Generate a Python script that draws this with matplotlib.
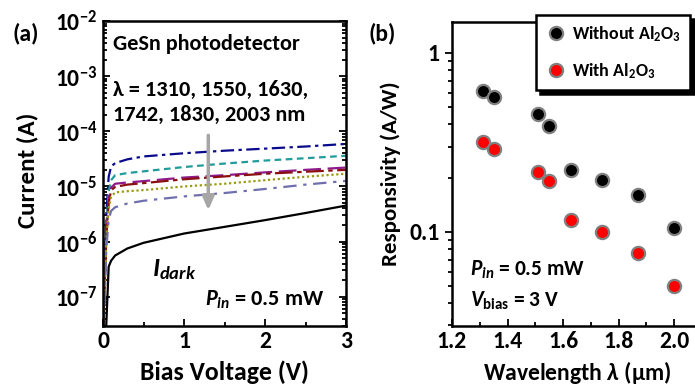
import matplotlib
matplotlib.use("Agg")
import matplotlib.pyplot as plt
from matplotlib.ticker import FixedLocator, LogLocator, NullFormatter, MultipleLocator

fam = 'Carlito'
plt.rcParams['font.family'] = [fam, 'DejaVu Sans']
plt.rcParams['font.weight'] = 'bold'
plt.rcParams['mathtext.fontset'] = 'custom'
plt.rcParams['mathtext.rm'] = fam + ':bold'
plt.rcParams['mathtext.bf'] = fam + ':bold'
plt.rcParams['mathtext.it'] = fam + ':italic:bold'

# ---- panel (a) data ----
voltage = [0, 0.02, 0.04, 0.07, 0.1, 0.15, 0.3, 0.5, 1.0, 1.5, 2.0, 2.5, 3.0]
i_1310 = [2e-8, 3e-7, 3e-6, 1.5e-5, 2.3e-5, 2.65e-5, 3.1e-5, 3.5e-5, 4.0e-5, 4.45e-5, 4.85e-5, 5.3e-5, 5.9e-5]
i_1550 = [2e-8, 2e-7, 2e-6, 8e-6, 1.3e-5, 1.6e-5, 1.75e-5, 1.88e-5, 2.25e-5, 2.6e-5, 2.95e-5, 3.25e-5, 3.6e-5]
i_1630 = [2e-8, 1.5e-7, 1.5e-6, 6e-6, 9.5e-6, 1.12e-5, 1.18e-5, 1.25e-5, 1.45e-5, 1.6e-5, 1.8e-5, 2.0e-5, 2.2e-5]
i_1742 = [2e-8, 1.2e-7, 1.2e-6, 5e-6, 8.5e-6, 9.8e-6, 1.08e-5, 1.15e-5, 1.35e-5, 1.52e-5, 1.7e-5, 1.85e-5, 2.0e-5]
i_1830 = [2e-8, 1e-7, 1e-6, 4e-6, 6.5e-6, 7.8e-6, 8.2e-6, 8.6e-6, 1.0e-5, 1.12e-5, 1.3e-5, 1.5e-5, 1.7e-5]
i_2003 = [2e-8, 8e-8, 7e-7, 2.5e-6, 3.6e-6, 4.2e-6, 4.9e-6, 5.5e-6, 6.6e-6, 7.6e-6, 9e-6, 1.08e-5, 1.26e-5]
i_dark = [1e-8, 1e-8, 3e-8, 3.5e-7, 4.5e-7, 5.6e-7, 7.5e-7, 9.5e-7, 1.4e-6, 1.85e-6, 2.45e-6, 3.3e-6, 4.5e-6]

a_yticks = [1e-7, 1e-6, 1e-5, 1e-4, 1e-3, 1e-2]
a_yticklabels = [r'$\mathbf{10^{-7}}$', r'$\mathbf{10^{-6}}$', r'$\mathbf{10^{-5}}$',
                 r'$\mathbf{10^{-4}}$', r'$\mathbf{10^{-3}}$', r'$\mathbf{10^{-2}}$']
a_xticks = [0, 1, 2, 3]

# ---- panel (b) data ----
wavelength = [1.31, 1.35, 1.51, 1.55, 1.63, 1.74, 1.87, 2.0]
resp_without = [0.61, 0.567, 0.456, 0.391, 0.222, 0.195, 0.161, 0.105]
resp_with = [0.318, 0.291, 0.216, 0.193, 0.117, 0.100, 0.0764, 0.0499]
b_yticks = [0.1, 1]
b_yticklabels = ['0.1', '1']
b_xticks = [1.2, 1.4, 1.6, 1.8, 2.0]
b_xticklabels = ['1.2', '1.4', '1.6', '1.8', '2.0']

W, H = 695, 387
fig = plt.figure(figsize=(W / 100, H / 100), dpi=100)

# ---------------- panel (a) ----------------
axa = fig.add_axes([103 / W, (H - 326) / H, 243 / W, 305 / H])
styles = [
    (i_1310, '#0a0a8c', (0, (6, 2, 1.5, 2))),
    (i_1550, '#1f9c9c', (0, (3, 2))),
    (i_1630, '#8e1a8e', (0, (8, 3))),
    (i_1742, '#8b0f0f', (0, (8, 2, 2, 2))),
    (i_1830, '#9a9a10', (0, (1, 1.2))),
    (i_2003, '#6f6fae', (0, (6, 3, 1.5, 3))),
]
for data, col, ls in styles:
    axa.plot(voltage, data, color=col, linestyle=ls, lw=1.6)
axa.plot(voltage, i_dark, color='black', lw=1.6)

axa.set_yscale('log')
axa.set_xlim(0, 3)
axa.set_ylim(2.95e-8, 1e-2)
axa.yaxis.set_major_locator(FixedLocator(a_yticks))
axa.set_yticklabels(a_yticklabels)
axa.yaxis.set_minor_locator(LogLocator(base=10, subs=range(2, 10), numticks=20))
axa.yaxis.set_minor_formatter(NullFormatter())
axa.set_xticks(a_xticks)
axa.set_xticklabels([str(v) for v in a_xticks])
axa.xaxis.set_minor_locator(MultipleLocator(0.5))
axa.tick_params(axis='both', which='both', direction='in', labelsize=17, width=1.3)
axa.tick_params(axis='y', which='both', right=True, pad=4)
axa.tick_params(axis='both', which='major', length=5)
axa.tick_params(axis='both', which='minor', length=3)
for s in axa.spines.values():
    s.set_linewidth(1.8)
axa.set_xlabel('Bias Voltage (V)', fontsize=18.5, fontweight='bold')
axa.set_ylabel('Current (A)', fontsize=18, fontweight='bold')
axa.xaxis.set_label_coords(0.5, -0.113)
axa.yaxis.set_label_coords(-0.265, 0.51)

axa.annotate('', xy=(1.3, 3.3e-6), xytext=(1.3, 9.5e-5),
             arrowprops=dict(arrowstyle='-|>,head_length=0.8,head_width=0.35',
                             color='#a6a6a6', lw=2.5))
axa.text(0.04, 0.905, 'GeSn photodetector', transform=axa.transAxes, fontsize=16,
         fontweight='bold')
axa.text(0.04, 0.755, 'λ = 1310, 1550, 1630,', transform=axa.transAxes, fontsize=16,
         fontweight='bold')
axa.text(0.04, 0.672, '1742, 1830, 2003 nm', transform=axa.transAxes, fontsize=16,
         fontweight='bold')
axa.text(0.2, 0.165, r'$I_{dark}$', transform=axa.transAxes, fontsize=19)
axa.text(0.42, 0.065, r'$P_{in}$ = 0.5 mW', transform=axa.transAxes, fontsize=16,
         fontweight='bold')
fig.text(12 / W, 1 - 40 / H, '(a)', fontsize=17, fontweight='bold')

# ---------------- panel (b) ----------------
axb = fig.add_axes([452 / W, (H - 326) / H, 250 / W, 304 / H])
l1, = axb.plot(wavelength, resp_without, 'o', color='black', markeredgecolor='#808080',
               markeredgewidth=1.6, markersize=9.5, label=r'Without Al$_2$O$_3$')
l2, = axb.plot(wavelength, resp_with, 'o', color='#ff0000', markeredgecolor='#808080',
               markeredgewidth=1.6, markersize=9.5, label=r'With Al$_2$O$_3$')
axb.set_yscale('log')
axb.set_xlim(1.2, 2.1)
axb.set_ylim(0.0298, 1.49)
axb.yaxis.set_major_locator(FixedLocator(b_yticks))
axb.set_yticklabels(b_yticklabels)
axb.yaxis.set_minor_locator(LogLocator(base=10, subs=range(2, 10), numticks=20))
axb.yaxis.set_minor_formatter(NullFormatter())
axb.set_xticks(b_xticks)
axb.set_xticklabels(b_xticklabels)
axb.xaxis.set_minor_locator(MultipleLocator(0.1))
axb.tick_params(axis='x', which='both', direction='in', labelsize=17, width=1.3)
axb.tick_params(axis='y', which='both', direction='out', labelsize=17, width=1.3, pad=4)
axb.tick_params(axis='both', which='major', length=5)
axb.tick_params(axis='both', which='minor', length=3)
for s in axb.spines.values():
    s.set_linewidth(1.8)
axb.set_xlabel('Wavelength ' + r'$\lambda$' + ' (µm)', fontsize=17, fontweight='bold')
axb.set_ylabel('Responsivity (A/W)', fontsize=16.5, fontweight='bold')
axb.xaxis.set_label_coords((577 - 452) / 250, -0.108)
axb.yaxis.set_label_coords(-0.205, 0.5)
axb.text(0.07, 0.165, r'$P_{in}$ = 0.5 mW', transform=axb.transAxes, fontsize=15.5,
         fontweight='bold')
axb.text(0.07, 0.065, r'$V_{\mathrm{bias}}$ = 3 V', transform=axb.transAxes, fontsize=15.5,
         fontweight='bold')
fig.text(369 / W, 1 - 40 / H, '(b)', fontsize=17, fontweight='bold')

leg = axb.legend(handles=[l1, l2], loc='upper right',
                 bbox_to_anchor=(690 / W, 1 - 15 / H), bbox_transform=fig.transFigure,
                 fancybox=False, framealpha=1, edgecolor='black',
                 shadow={'color': 'black', 'alpha': 1, 'ox': 3, 'oy': -3},
                 prop={'weight': 'bold', 'size': 13}, handletextpad=0.3,
                 borderpad=0.5, labelspacing=0.95, handlelength=1.2, borderaxespad=0)
leg.get_frame().set_linewidth(1.8)
leg.set_zorder(10)

fig.savefig('out.png', dpi=100)
